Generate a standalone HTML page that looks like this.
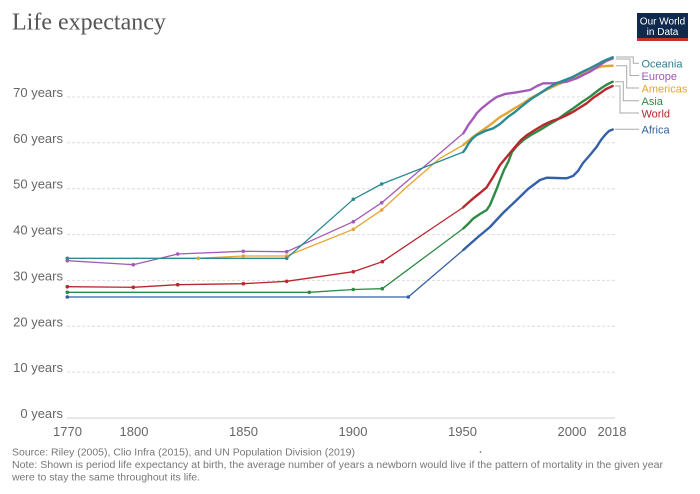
<!DOCTYPE html>
<html><head><meta charset="utf-8"><style>
html,body{margin:0;padding:0;background:#fff;}
svg{display:block;}
text{font-family:"Liberation Sans",sans-serif;}
</style></head><body>
<svg width="700" height="494" viewBox="0 0 700 494" xmlns="http://www.w3.org/2000/svg">
<rect width="700" height="494" fill="#fff"/>
<text x="12" y="29.5" style="font-family:'Liberation Serif',serif" font-size="24" fill="#555">Life expectancy</text>
<!-- logo -->
<rect x="637" y="13" width="51" height="28" fill="#0f2a4e"/>
<rect x="637" y="38" width="51" height="3" fill="#c4302b"/>
<text x="662.5" y="24.5" font-size="10" fill="#fff" text-anchor="middle">Our World</text>
<text x="662.5" y="35" font-size="10" fill="#fff" text-anchor="middle">in Data</text>
<!-- grid -->
<g stroke="#dcdcdc" stroke-width="1" stroke-dasharray="3,2">
<line x1="67" y1="97" x2="615" y2="97"/>
<line x1="67" y1="142.8" x2="615" y2="142.8"/>
<line x1="67" y1="188.7" x2="615" y2="188.7"/>
<line x1="67" y1="234.6" x2="615" y2="234.6"/>
<line x1="67" y1="280.4" x2="615" y2="280.4"/>
<line x1="67" y1="326.3" x2="615" y2="326.3"/>
<line x1="67" y1="372.1" x2="615" y2="372.1"/>
</g>
<line x1="67" y1="418" x2="615" y2="418" stroke="#cfcfcf" stroke-width="1"/>
<g font-size="13" fill="#666" text-anchor="end">
<text x="63" y="97">70 years</text>
<text x="63" y="142.8">60 years</text>
<text x="63" y="188.7">50 years</text>
<text x="63" y="234.6">40 years</text>
<text x="63" y="280.4">30 years</text>
<text x="63" y="326.3">20 years</text>
<text x="63" y="372.1">10 years</text>
<text x="63" y="418">0 years</text>
</g>
<g font-size="13" fill="#666" text-anchor="middle">
<text x="67.5" y="436">1770</text>
<text x="134" y="436">1800</text>
<text x="243.5" y="436">1850</text>
<text x="353" y="436">1900</text>
<text x="462.5" y="436">1950</text>
<text x="572" y="436">2000</text>
<text x="612" y="436">2018</text>
</g>
<!-- series -->
<g fill="none" stroke-linejoin="round" stroke-linecap="round">
<g stroke="#3360a9">
<polyline stroke-width="1.3" points="67.3,297 408.3,297 463.3,250"/>
<polyline stroke-width="2.4" points="463.3,250 470,244 478,237 490,227 503,213 516.7,200 528,189 540,180 546.7,177.7 556,178 566.7,178.3 573,176 578,171 583,163 590,155 596.7,146.7 601,140 605,135 609,131 612.7,129.5"/>
</g>
<g stroke="#2f8a45">
<polyline stroke-width="1.3" points="67.3,292.3 309.3,292.3 353.3,289.5 382.3,288.7 463.3,228.5"/>
<polyline stroke-width="2.4" points="463.3,228.5 468,224 473.3,218.5 480,214 486.7,210 490,205 493.3,197 497,188 500,180 504,170 508.3,161.7 512,152 517,146 523.3,140 531,135 540,130 548,125 556.7,120 565,114 573.3,108.3 582,102 590,96.7 600,89 606,85 612.7,81.7"/>
</g>
<g stroke="#b8282e">
<polyline stroke-width="1.3" points="67.3,286.7 133.3,287.3 177.7,284.7 243.3,283.7 286.7,281.3 353.3,271.7 382.3,261.7 463,207.5"/>
<polyline stroke-width="2.4" points="463,207.5 468,203 473.3,198.3 480,193 486.7,187.3 490,182 493.3,176.7 500,165 508.3,155 515,147 521,140 527,135 535,130 543.3,125 552,121 560,118.3 567,115 573.3,111.7 580,107.5 586.7,103.3 593,98 600,93.3 606,89 612.7,86"/>
</g>
<g stroke="#e6a532">
<polyline stroke-width="1.3" points="198.3,258.3 243.3,256 286.7,256 353.3,229.3 381.7,210 406.7,187 440,158.3 463.3,145"/>
<polyline stroke-width="2.4" points="463.3,145 468,141 473.3,136.7 480,132 490,125 500,117 506.7,113.3 515,108 523.3,103.3 531,98 540,93.3 548,89 556.7,85 565,81.5 573.3,78.3 582,74 590,70.7 600,66.7 606,66 612.7,65.7"/>
</g>
<g stroke="#a35ab9">
<polyline stroke-width="1.3" points="67.3,260.7 133.3,264.7 177.7,254 243.3,251.3 286.7,251.7 353.3,221.7 381.7,202.7 463.3,133.3"/>
<polyline stroke-width="2.4" points="463.3,133.3 466,129 468.3,125 473.3,118.3 476.7,113.3 481.7,108.3 490,101.7 496.7,97 505,94 516.7,92.3 530,90 537,86 543.3,83.3 553.3,83.3 560,82.5 566.7,81.7 576.7,78.3 583,75 590,71.7 600,65 606,61 612.7,58.5"/>
</g>
<g stroke="#2b8a92">
<polyline stroke-width="1.3" points="67.3,258.3 286.7,258.3 353.3,199.3 381.7,184 463.3,152"/>
<polyline stroke-width="2.4" points="463.3,152 466,148 468.3,144 472,139 476.7,135 485,131 493.3,128.3 500,124 508.3,116.7 515,112 523.3,105 531,99 540,93.3 548,88 556.7,83.3 565,80 573.3,76.7 582,72 590,68.3 600,63 606,60 612.7,57.3"/>
</g>
</g>
<!-- markers -->
<g fill="#3360a9"><circle cx="67.3" cy="297" r="1.8"/><circle cx="408.3" cy="297" r="1.8"/></g>
<g fill="#2f8a45"><circle cx="67.3" cy="292.3" r="1.8"/><circle cx="309.3" cy="292.3" r="1.8"/><circle cx="353.3" cy="289.5" r="1.8"/><circle cx="382.3" cy="288.7" r="1.8"/></g>
<g fill="#b8282e"><circle cx="67.3" cy="286.7" r="1.8"/><circle cx="133.3" cy="287.3" r="1.8"/><circle cx="177.7" cy="284.7" r="1.8"/><circle cx="243.3" cy="283.7" r="1.8"/><circle cx="286.7" cy="281.3" r="1.8"/><circle cx="353.3" cy="271.7" r="1.8"/><circle cx="382.3" cy="261.7" r="1.8"/></g>
<g fill="#e6a532"><circle cx="198.3" cy="258.3" r="1.8"/><circle cx="243.3" cy="256" r="1.8"/><circle cx="286.7" cy="256" r="1.8"/><circle cx="353.3" cy="229.3" r="1.8"/><circle cx="381.7" cy="210" r="1.8"/></g>
<g fill="#a35ab9"><circle cx="67.3" cy="260.7" r="1.8"/><circle cx="133.3" cy="264.7" r="1.8"/><circle cx="177.7" cy="254" r="1.8"/><circle cx="243.3" cy="251.3" r="1.8"/><circle cx="286.7" cy="251.7" r="1.8"/><circle cx="353.3" cy="221.7" r="1.8"/><circle cx="381.7" cy="202.7" r="1.8"/></g>
<g fill="#2b8a92"><circle cx="67.3" cy="258.3" r="1.8"/><circle cx="286.7" cy="258.3" r="1.8"/><circle cx="353.3" cy="199.3" r="1.8"/><circle cx="381.7" cy="184" r="1.8"/></g>
<!-- legend connectors -->
<g fill="none" stroke="#aaa" stroke-width="1">
<polyline points="616,57 633.3,57 633.3,63.3 639,63.3"/>
<polyline points="616,59 630,59 630,75.5 639,75.5"/>
<polyline points="616,65.7 626.7,65.7 626.7,88 639,88"/>
<polyline points="615,81.7 623.3,81.7 623.3,100.7 639,100.7"/>
<polyline points="615,86 620,86 620,113 639,113"/>
<polyline points="615,129.3 639,129.3"/>
</g>
<g font-size="11">
<text x="641.5" y="67.3" fill="#2b7f8e">Oceania</text>
<text x="641.5" y="79.8" fill="#9b59b6">Europe</text>
<text x="641.5" y="92.3" fill="#e3a52c">Americas</text>
<text x="641.5" y="104.8" fill="#2f8a45">Asia</text>
<text x="641.5" y="117.3" fill="#b8282e">World</text>
<text x="641.5" y="133.3" fill="#2f5f9a">Africa</text>
</g>
<!-- footer -->
<g font-size="10" fill="#777">
<text x="12" y="455.5" textLength="343" lengthAdjust="spacingAndGlyphs">Source: Riley (2005), Clio Infra (2015), and UN Population Division (2019)</text>
<text x="12" y="468" textLength="651" lengthAdjust="spacingAndGlyphs">Note: Shown is period life expectancy at birth, the average number of years a newborn would live if the pattern of mortality in the given year</text>
<text x="12" y="480.5" textLength="188" lengthAdjust="spacingAndGlyphs">were to stay the same throughout its life.</text>
</g>
<circle cx="480.5" cy="452" r="0.9" fill="#777"/>
</svg>
</body></html>
